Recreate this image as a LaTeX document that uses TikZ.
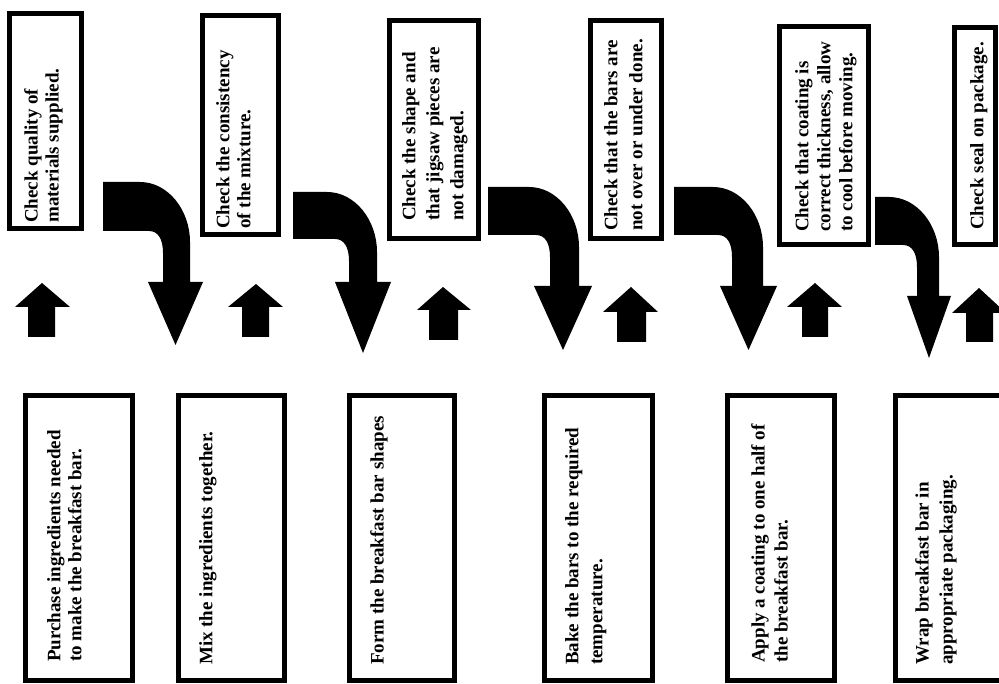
\documentclass[tikz,border=0pt]{standalone}
\usepackage{fontspec}
\setmainfont{Liberation Serif}
\tikzset{
  box/.style={draw=black, line width=5pt, fill=white, inner sep=0pt},
  txt/.style={rotate=90, anchor=north west, inner sep=0pt, align=left, font=\bfseries\fontsize{19}{#1}\selectfont},
  txt/.default=23,
  blk/.style={fill=black},
}
\newcommand\BoxAt[5]{\node[box, minimum width={#4-#2-5}, minimum height={#5-#3-5}] (#1) at ({(#2+#4)/2},{(#3+#5)/2}) {};}
\newcommand\BentArrow[9]{%
  \fill[blk] (#1,#2) -- ({#5-50},#2) .. controls ({#5-22},#2) and (#5,{#2+28}) .. (#5,{#2+60})
    -- (#5,#6) -- (#8,#6) -- ({(#7+#8)/2},#9) -- (#7,#6) -- (#4,#6) -- (#4,{#3+22})
    .. controls (#4,{#3+8}) and ({#4-5},#3) .. ({#4-14},#3) -- (#1,#3) -- cycle;}
\newcommand\UpArrow[8]{%
  \fill[blk] (#1,#3) -- (#1,#4) -- (#5,#4) -- (#7,#8) -- (#6,#4) -- (#2,#4) -- (#2,#3) -- cycle;}
\begin{document}
\begin{tikzpicture}[x=1pt,y=-1pt]
\useasboundingbox (0,0) rectangle (999,684);
\clip (0,0) rectangle (999,684);
% top check boxes
\BoxAt{c1}{7}{11}{84}{231}
\BoxAt{c2}{200}{13}{281}{237}
\BoxAt{c3}{387}{18}{481}{241}
\BoxAt{c4}{588}{18}{664}{241}
\BoxAt{c5}{777}{24}{871}{247}
\BoxAt{c6}{952}{25}{998}{247}
% bottom process boxes
\BoxAt{p1}{23}{393}{135}{683}
\BoxAt{p2}{176}{393}{287}{683}
\BoxAt{p3}{347}{393}{457}{683}
\BoxAt{p4}{542}{393}{655}{683}
\BoxAt{p5}{725}{393}{837}{683}
\BoxAt{p6}{893}{393}{1010}{683}
% texts
\node[txt=21] (tc1) at (24,223) {Check quality of\\materials supplied.};
\node[txt=21] (tc2) at (216,229) {Check the consistency\\of the mixture.};
\node[txt=24] (tc3) at (402,221) {Check the shape and\\that jigsaw pieces are\\not damaged.};
\node[txt=25] (tc4) at (604,231) {Check that the bars are\\not over or under done.};
\node[txt=22] (tc5) at (795,232) {Check that coating is\\correct thickness, allow\\to cool before moving.};
\node[txt] (tc6) at (970,230) {Check seal on package.};
\node[txt=21] (tp1) at (47,662) {Purchase ingredients needed\\to make the breakfast bar.};
\node[txt] (tp2) at (199,665) {Mix the ingredients together.};
\node[txt] (tp3) at (370,665) {Form the breakfast bar shapes};
\node[txt=24] (tp4) at (565,665) {Bake the bars to the required\\temperature.};
\node[txt=23] (tp5) at (751,663) {Apply a coating to one half of\\the breakfast bar.};
\node[txt=24] (tp6) at (915,665) {Wrap breakfast bar in\\appropriate packaging.};
% bent arrows
\BentArrow{103}{182}{231}{163}{190}{282}{148}{203}{345}
\BentArrow{293}{192}{239}{349}{377}{282}{335}{391}{353}
\BentArrow{488}{187}{235}{550}{579}{286}{534}{592}{350}
\BentArrow{674}{187}{235}{732}{763}{286}{720}{777}{350}
\BentArrow{875}{197}{245}{917}{939}{296}{907}{951}{358}
% up arrows
\UpArrow{28}{55}{337}{307}{15}{70}{42}{283}
\UpArrow{242}{269}{337}{307}{228}{283}{256}{284}
\UpArrow{429}{458}{340}{310}{417}{471}{443}{287}
\UpArrow{617}{646}{342}{312}{603}{658}{631}{287}
\UpArrow{802}{828}{337}{307}{787}{842}{815}{283}
\UpArrow{966}{993}{342}{313}{952}{1006}{979}{288}
\end{tikzpicture}
\end{document}
